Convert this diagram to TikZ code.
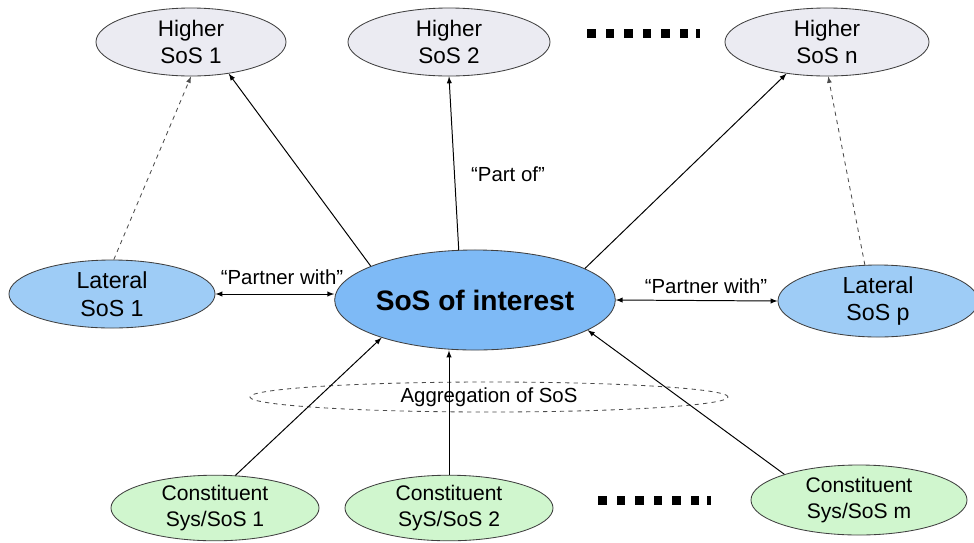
\documentclass[tikz,border=0pt]{standalone}
\usepackage{fontspec}
\setmainfont{Liberation Sans}
\usetikzlibrary{arrows,shapes.geometric,positioning}
\definecolor{higherfill}{RGB}{235,235,242}
\definecolor{lateralfill}{RGB}{158,204,246}
\definecolor{soifill}{RGB}{126,186,246}
\definecolor{constfill}{RGB}{208,246,206}

\begin{document}
\begin{tikzpicture}[x=0.025cm,y=-0.025cm,
  sysnode/.style={ellipse, draw=black!75, line width=0.6pt, inner sep=0pt, align=center, font=\fontsize{16}{19}\selectfont},
  higher/.style={sysnode, fill=higherfill, minimum height=1.7cm},
  lateral/.style={sysnode, fill=lateralfill, minimum height=1.7cm, font=\fontsize{16.5}{19.5}\selectfont},
  constit/.style={sysnode, fill=constfill, minimum height=1.6cm, font=\fontsize{15}{19}\selectfont},
  lbl/.style={inner sep=0pt, font=\fontsize{14.5}{17}\selectfont},
  link/.style={-latex, line width=0.7pt},
  weak/.style={-latex, line width=0.6pt, dashed, draw=black!70}]
\useasboundingbox (0,0) rectangle (974,542);

% higher level SoS
\node[higher, minimum width=4.75cm] (h1) at (191,42) {Higher\\SoS 1};
\node[higher, minimum width=5.05cm] (h2) at (449,42) {Higher\\SoS 2};
\node[higher, minimum width=5.1cm] (hn) at (827,42) {Higher\\SoS n};

% lateral SoS and SoS of interest
\node[lateral, minimum width=5.15cm] (l1) at (112,294) {Lateral\\SoS 1};
\node[sysnode, fill=soifill, minimum width=6.9cm, minimum height=2.5cm, font=\fontsize{20}{24}\selectfont\bfseries] (soi) at (475,300) {SoS of interest};
\node[lateral, minimum width=5cm, minimum height=1.8cm] (lp) at (878,301) {Lateral\\SoS p};

% aggregation
\node[ellipse, draw=black!70, dashed, line width=0.6pt, minimum width=11.95cm, minimum height=0.75cm, inner sep=0pt] (agg) at (489,397) {};

% constituents
\node[constit, minimum width=5.2cm] (c1) at (215,508) {Constituent\\Sys/SoS 1};
\node[constit, minimum width=5.2cm] (c2) at (449,508) {Constituent\\SyS/SoS 2};
\node[constit, minimum width=5.4cm, minimum height=1.75cm] (cm) at (859,500) {Constituent\\Sys/SoS m};

% up links
\draw[weak] (l1.87) -- (h1.-90);
\draw[link] (soi.162) -- (h1.-40);
\draw[link] (soi.108) -- (h2.-90);
\draw[link] (soi.16) -- (hn.-142);
\draw[weak] (lp.110) -- (hn.-88);
\node[lbl] (partof) at (508,174) {``Part of''};

% partner links
\draw[latex-latex, line width=0.7pt] (l1.east) -- (l1.east -| soi.west);
\draw[latex-latex, line width=0.7pt] (soi.east) -- (lp.west);
\node[lbl] (pw1) at (282,277) {``Partner with''};
\node[lbl] (pw2) at (706,286) {``Partner with''};

% constituent links
\draw[link] (c1.58) -- (soi.-158);
\draw[link] (c2.north) -- (c2.north |- soi.south);
\draw[link] (cm.161) -- (soi.-15);
\node[lbl] (aggtxt) at (agg) {Aggregation of SoS};

% more nodes
\foreach \i in {0,...,5}
\fill (587+18.5*\i,29) rectangle ++(8.5,8.5);
\fill (696,29) rectangle ++(3.5,8.5);
\foreach \i in {0,...,5}
\fill (598+18.5*\i,496) rectangle ++(8.5,8.5);
\fill (707,496) rectangle ++(3.5,8.5);
\end{tikzpicture}
\end{document}
